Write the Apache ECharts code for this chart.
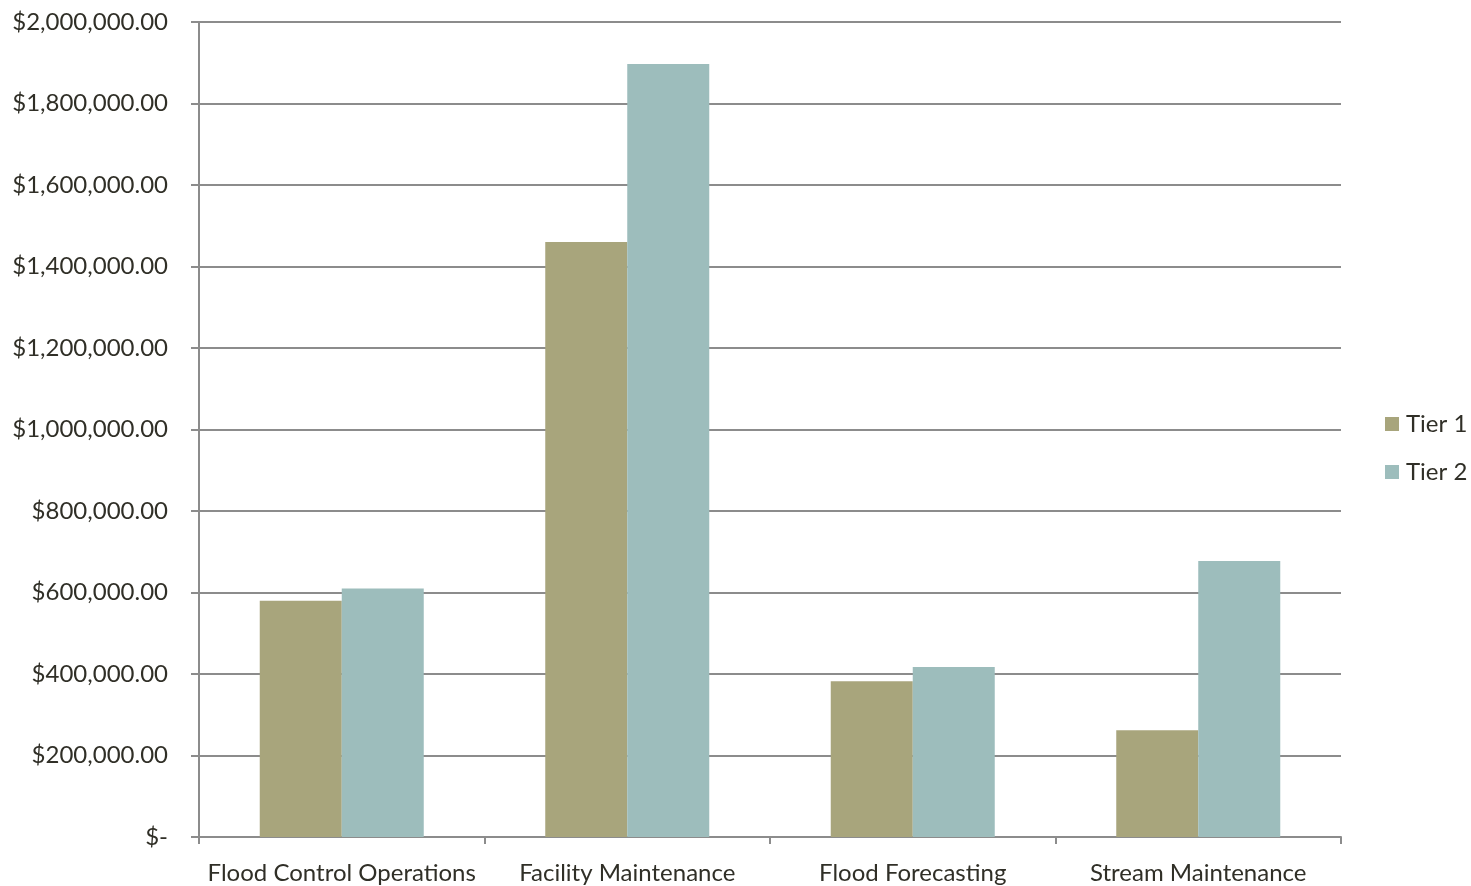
<!DOCTYPE html>
<html><head><meta charset="utf-8">
<script src="https://cdn.jsdelivr.net/npm/echarts@6/dist/echarts.min.js"></script>
<style>html,body{margin:0;padding:0;background:#fff}#c{width:1471px;height:886px}</style>
</head><body><div id="c"></div>
<script>
var categories = ['Flood Control Operations', 'Facility Maintenance', 'Flood Forecasting', 'Stream Maintenance'];
var tier1 = [580000, 1460000, 382000, 262000];
var tier2 = [610000, 1897000, 417000, 677000];
var seriesNames = ['Tier 1', 'Tier 2'];

function fmt(v) {
  if (v === 0) return '$-';
  return '$' + v.toLocaleString('en-US', {minimumFractionDigits: 2, maximumFractionDigits: 2});
}
var font = 'Lato';
var txt = '#302f27';
var chart = echarts.init(document.getElementById('c'));
chart.setOption({
  animation: false,
  textStyle: {fontFamily: font},
  grid: {left: 199, right: 130, top: 22, bottom: 49, containLabel: false},
  legend: {
    orient: 'vertical', left: 1385, top: 412, itemWidth: 14, itemHeight: 14, itemGap: 24,
    padding: 0, icon: 'rect', itemStyle: {borderWidth: 0},
    textStyle: {fontFamily: font, fontSize: 24, color: txt, padding: [0, 0, 0, 2]},
    data: seriesNames
  },
  xAxis: {
    type: 'category', data: categories,
    axisLine: {lineStyle: {color: '#8c8c8c', width: 2}},
    axisTick: {show: true, length: 7, lineStyle: {color: '#8c8c8c', width: 2}},
    axisLabel: {fontFamily: font, fontSize: 24, color: txt, margin: 24, interval: 0}
  },
  yAxis: {
    type: 'value', min: 0, max: 2000000, interval: 200000,
    axisLine: {show: true, lineStyle: {color: '#8c8c8c', width: 2}},
    axisTick: {show: true, length: 8, lineStyle: {color: '#8c8c8c', width: 2}},
    splitLine: {lineStyle: {color: '#8c8c8c', width: 2}},
    axisLabel: {fontFamily: font, fontSize: 24, color: txt, margin: 31, formatter: fmt}
  },
  series: [
    {name: seriesNames[0], type: 'bar', data: tier1, barWidth: 82, barGap: '0%', itemStyle: {color: '#a8a57c'}},
    {name: seriesNames[1], type: 'bar', data: tier2, barWidth: 82, barGap: '0%', itemStyle: {color: '#9dbdbc'}}
  ]
});
</script></body></html>
